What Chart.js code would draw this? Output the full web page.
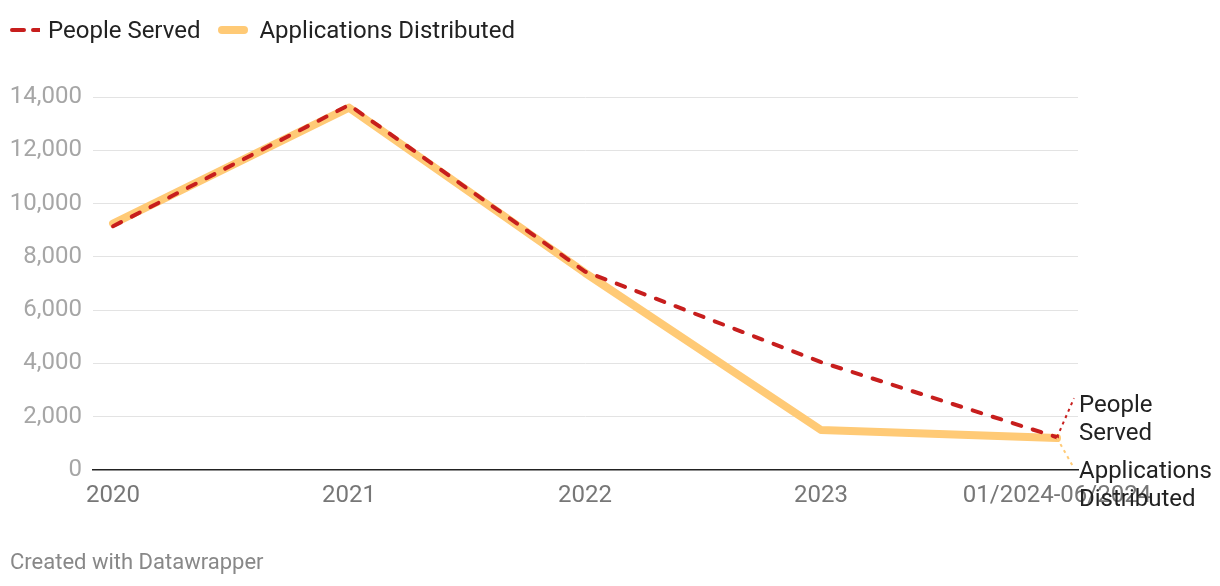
<!DOCTYPE html>
<html>
<head>
<meta charset="utf-8">
<script src="https://cdn.jsdelivr.net/npm/chart.js@4"></script>
<style>
  html, body { margin: 0; padding: 0; background: #fff; }
  body { width: 1220px; height: 586px; position: relative; overflow: hidden; font-family: Roboto, "Noto Sans", sans-serif; }
  #wrap { position: absolute; left: 0; top: 0; width: 1220px; height: 586px; }
  #legend { position: absolute; left: 10px; top: 15px; display: flex; align-items: center; font-size: 24px; line-height: 30px; color: #222; }
  .item { display: flex; align-items: center; margin-right: 18px; }
  .sw { width: 30px; height: 8px; margin-right: 8px; position: relative; display: flex; }
  .item + .item .sw { margin-right: 11px; }
  #footer { position: absolute; left: 10px; top: 549px; font-size: 22px; color: #888; }
</style>
</head>
<body>
<div id="wrap"><canvas id="c" width="1220" height="586"></canvas></div>
<div id="legend"></div>
<div id="footer">Created with Datawrapper</div>
<script>
const categories = ['2020', '2021', '2022', '2023', '01/2024-06/2024'];
const peopleServed = [9150, 13700, 7450, 4050, 1230];
const applicationsDistributed = [9250, 13600, 7400, 1500, 1200];
const yTicks = [0, 2000, 4000, 6000, 8000, 10000, 12000, 14000];
const seriesNames = ['People Served', 'Applications Distributed'];
const RED = '#c71e1d';
const YELLOW = '#ffca76';

// HTML legend
const legend = document.getElementById('legend');
[
  { name: seriesNames[0], svg: '<svg width="30" height="8"><line x1="2" y1="4" x2="30" y2="4" stroke="' + RED + '" stroke-width="4" stroke-dasharray="12,9" stroke-linecap="round"/></svg>' },
  { name: seriesNames[1], svg: '<svg width="30" height="8"><line x1="4" y1="4" x2="26" y2="4" stroke="' + YELLOW + '" stroke-width="8" stroke-linecap="round"/></svg>' }
].forEach(it => {
  const d = document.createElement('div');
  d.className = 'item';
  d.innerHTML = '<span class="sw">' + it.svg + '</span><span>' + it.name + '</span>';
  legend.appendChild(d);
});

const toPts = arr => arr.map((v, i) => ({ x: i, y: v }));

const endLabels = {
  id: 'endLabels',
  afterDatasetsDraw(chart) {
    const ctx = chart.ctx;
    const xs = chart.scales.x, ys = chart.scales.y;
    const last = categories.length - 1;
    const ex = xs.getPixelForValue(last);
    const yr = ys.getPixelForValue(peopleServed[last]);
    const yy = ys.getPixelForValue(applicationsDistributed[last]);
    const lx = chart.chartArea.right + 1;
    const lh = 28;
    const redTop = yr - 31;      // center of first line
    const yelTop = yr + 35;
    ctx.save();
    ctx.lineWidth = 2;
    ctx.setLineDash([3, 4]);
    ctx.strokeStyle = RED;
    ctx.beginPath(); ctx.moveTo(ex, yr); ctx.lineTo(lx - 5, redTop - 8); ctx.stroke();
    ctx.strokeStyle = YELLOW;
    ctx.beginPath(); ctx.moveTo(ex, yy); ctx.lineTo(lx - 5, yelTop - 4); ctx.stroke();
    ctx.setLineDash([]);
    ctx.fillStyle = '#222';
    ctx.font = '24px Roboto';
    ctx.textBaseline = 'middle';
    ctx.textAlign = 'left';
    ctx.fillText('People', lx, redTop);
    ctx.fillText('Served', lx, redTop + lh);
    ctx.fillText('Applications', lx, yelTop);
    ctx.fillText('Distributed', lx, yelTop + lh);
    ctx.restore();
  }
};

new Chart(document.getElementById('c'), {
  type: 'line',
  data: {
    datasets: [
      {
        label: seriesNames[0],
        data: toPts(peopleServed),
        borderColor: RED,
        borderWidth: 4,
        borderDash: [9, 12],
        borderCapStyle: 'round',
        borderJoinStyle: 'round',
        pointRadius: 0,
        tension: 0,
        fill: false
      },
      {
        label: seriesNames[1],
        data: toPts(applicationsDistributed),
        borderColor: YELLOW,
        borderWidth: 8,
        borderCapStyle: 'round',
        borderJoinStyle: 'round',
        pointRadius: 0,
        tension: 0,
        fill: false
      }
    ]
  },
  options: {
    responsive: false,
    animation: false,
    layout: { padding: { left: 0, right: 142, top: 97, bottom: 76 } },
    plugins: { legend: { display: false }, tooltip: { enabled: false } },
    scales: {
      x: {
        type: 'linear',
        min: -0.085,
        max: 4.089,
        afterBuildTicks: s => { s.ticks = categories.map((_, i) => ({ value: i })); },
        afterFit: s => { s.height = 40; },
        ticks: {
          autoSkip: false,
          maxRotation: 0,
          padding: 12,
          color: '#777',
          font: { family: 'Roboto', size: 24 },
          callback: v => categories[v]
        },
        grid: { display: false, drawTicks: false },
        border: { display: true, color: '#222', width: 1.5 }
      },
      y: {
        min: 0,
        max: 14000,
        afterBuildTicks: s => { s.ticks = yTicks.map(v => ({ value: v })); },
        afterFit: s => { s.width = 93; },
        ticks: {
          padding: 11,
          color: '#a6a6a6',
          font: { family: 'Roboto', size: 24 },
          callback: v => v.toLocaleString('en-US')
        },
        grid: {
          drawTicks: false,
          color: c => (c.tick && c.tick.value === 0) ? 'rgba(0,0,0,0)' : '#e3e3e3',
          lineWidth: 1
        },
        border: { display: false }
      }
    }
  },
  plugins: [endLabels]
});
</script>
</body>
</html>
